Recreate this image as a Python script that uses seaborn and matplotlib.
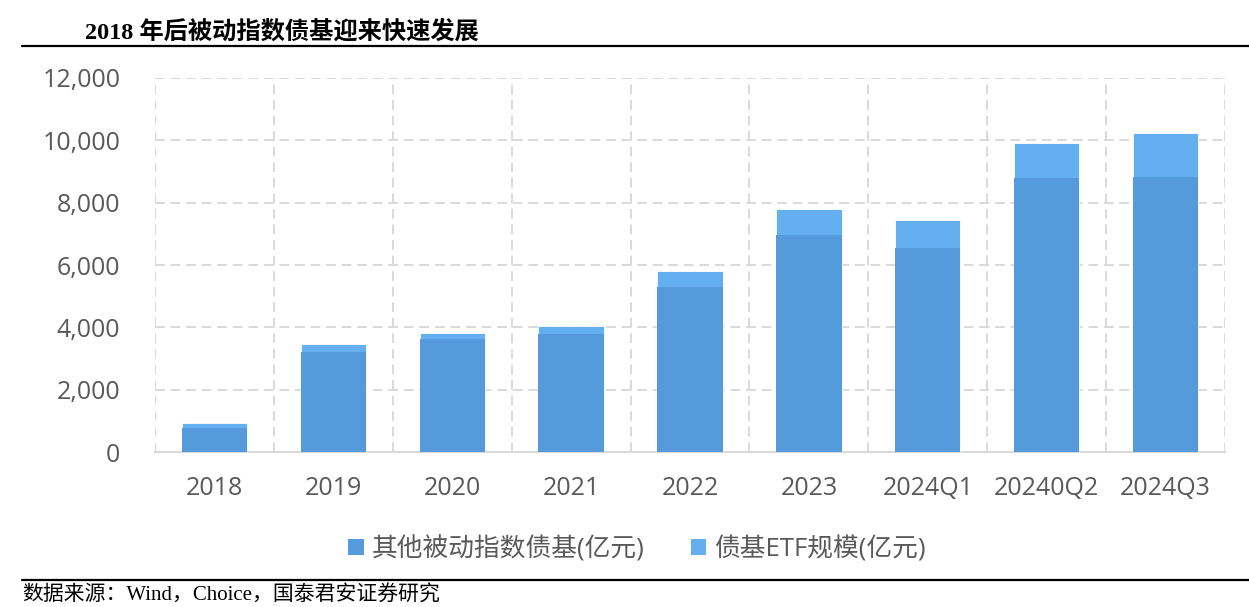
import numpy as np
import pandas as pd
import matplotlib
matplotlib.use('Agg')
import matplotlib.pyplot as plt
from matplotlib.patches import Patch
from matplotlib.lines import Line2D
from matplotlib.ticker import FuncFormatter, FixedLocator
import seaborn as sns

# data (亿元)
periods = ['2018', '2019', '2020', '2021', '2022', '2023', '2024Q1', '20240Q2', '2024Q3']
other_index = [770, 3200, 3620, 3780, 5290, 6960, 6540, 8780, 8810]   # 其他被动指数债基
etf_scale = [160, 260, 190, 260, 510, 830, 900, 1120, 1410]           # 债基ETF规模
series_names = ['其他被动指数债基(亿元)', '债基ETF规模(亿元)']
yticks = [0, 2000, 4000, 6000, 8000, 10000, 12000]

df = pd.DataFrame({'period': periods, 'other': other_index, 'etf': etf_scale})
df['total'] = df['other'] + df['etf']

c_other = '#559bdb'
c_etf = '#64aff0'
grid_c = '#d9d9d9'
txt_c = '#595959'

sns.set_theme(style='white')
plt.rcParams['font.family'] = ['Open Sans', 'Noto Sans CJK SC', 'DejaVu Sans']

fig = plt.figure(figsize=(12.49, 6.07), dpi=100)
ax = fig.add_axes([155/1249, 1 - 452/607, (1225-155)/1249, (452-78)/607])

# stacked: draw total first then the base on top
sns.barplot(data=df, x='period', y='total', color=c_etf, width=0.55, ax=ax,
            edgecolor='white', linewidth=0.6, saturation=1, zorder=3)
sns.barplot(data=df, x='period', y='other', color=c_other, width=0.55, ax=ax,
            edgecolor='none', saturation=1, zorder=4)

ax.set_ylim(0, 12000)
ax.set_xlim(-0.5, len(periods) - 0.5)
ax.set_yticks(yticks)
ax.yaxis.set_major_formatter(FuncFormatter(lambda v, p: f'{int(v):,}'))
ax.xaxis.set_minor_locator(FixedLocator(np.arange(-0.5, len(periods), 1.0)))
ax.set_xlabel('')
ax.set_ylabel('')

ax.grid(axis='y', which='major', color=grid_c, linestyle=(0, (5, 3)), linewidth=1.4, zorder=0)
ax.grid(axis='x', which='minor', color=grid_c, linestyle=(0, (5, 3)), linewidth=1.4, zorder=0)
ax.grid(axis='x', which='major', visible=False)

for s in ['top', 'right', 'left']:
    ax.spines[s].set_visible(False)
ax.spines['bottom'].set_color(grid_c)
ax.spines['bottom'].set_linewidth(1.5)

ax.tick_params(axis='both', which='both', length=0, colors=txt_c, labelsize=18)
ax.tick_params(axis='x', pad=17)
ax.tick_params(axis='y', pad=25)

handles = [Patch(facecolor=c_other, edgecolor='none'), Patch(facecolor=c_etf, edgecolor='none')]
leg = fig.legend(handles, series_names, loc='center', bbox_to_anchor=(0.51, 1 - 549/607),
                 ncol=2, frameon=False, fontsize=18.5, handlelength=0.6, handleheight=0.6,
                 handletextpad=0.3, columnspacing=1.8)
for t in leg.get_texts():
    t.set_color(txt_c)

# title and rules
fig.text(85/1249, 1 - 32/607, '2018 年后被动指数债基迎来快速发展', fontsize=17.5, fontweight='bold',
         family=['Liberation Serif', 'Noto Sans CJK SC'], va='center', ha='left', color='black')
fig.add_artist(Line2D([22/1249, 1], [1 - 46/607, 1 - 46/607], color='black', linewidth=1.6))
fig.add_artist(Line2D([22/1249, 1], [1 - 580/607, 1 - 580/607], color='black', linewidth=1.6))
fig.text(22/1249, 1 - 596/607, '数据来源：Wind，Choice，国泰君安证券研究', fontsize=15,
         family=['Liberation Serif', 'Noto Sans CJK SC'], va='center', ha='left', color='black')

fig.savefig('out.png', dpi=100)
